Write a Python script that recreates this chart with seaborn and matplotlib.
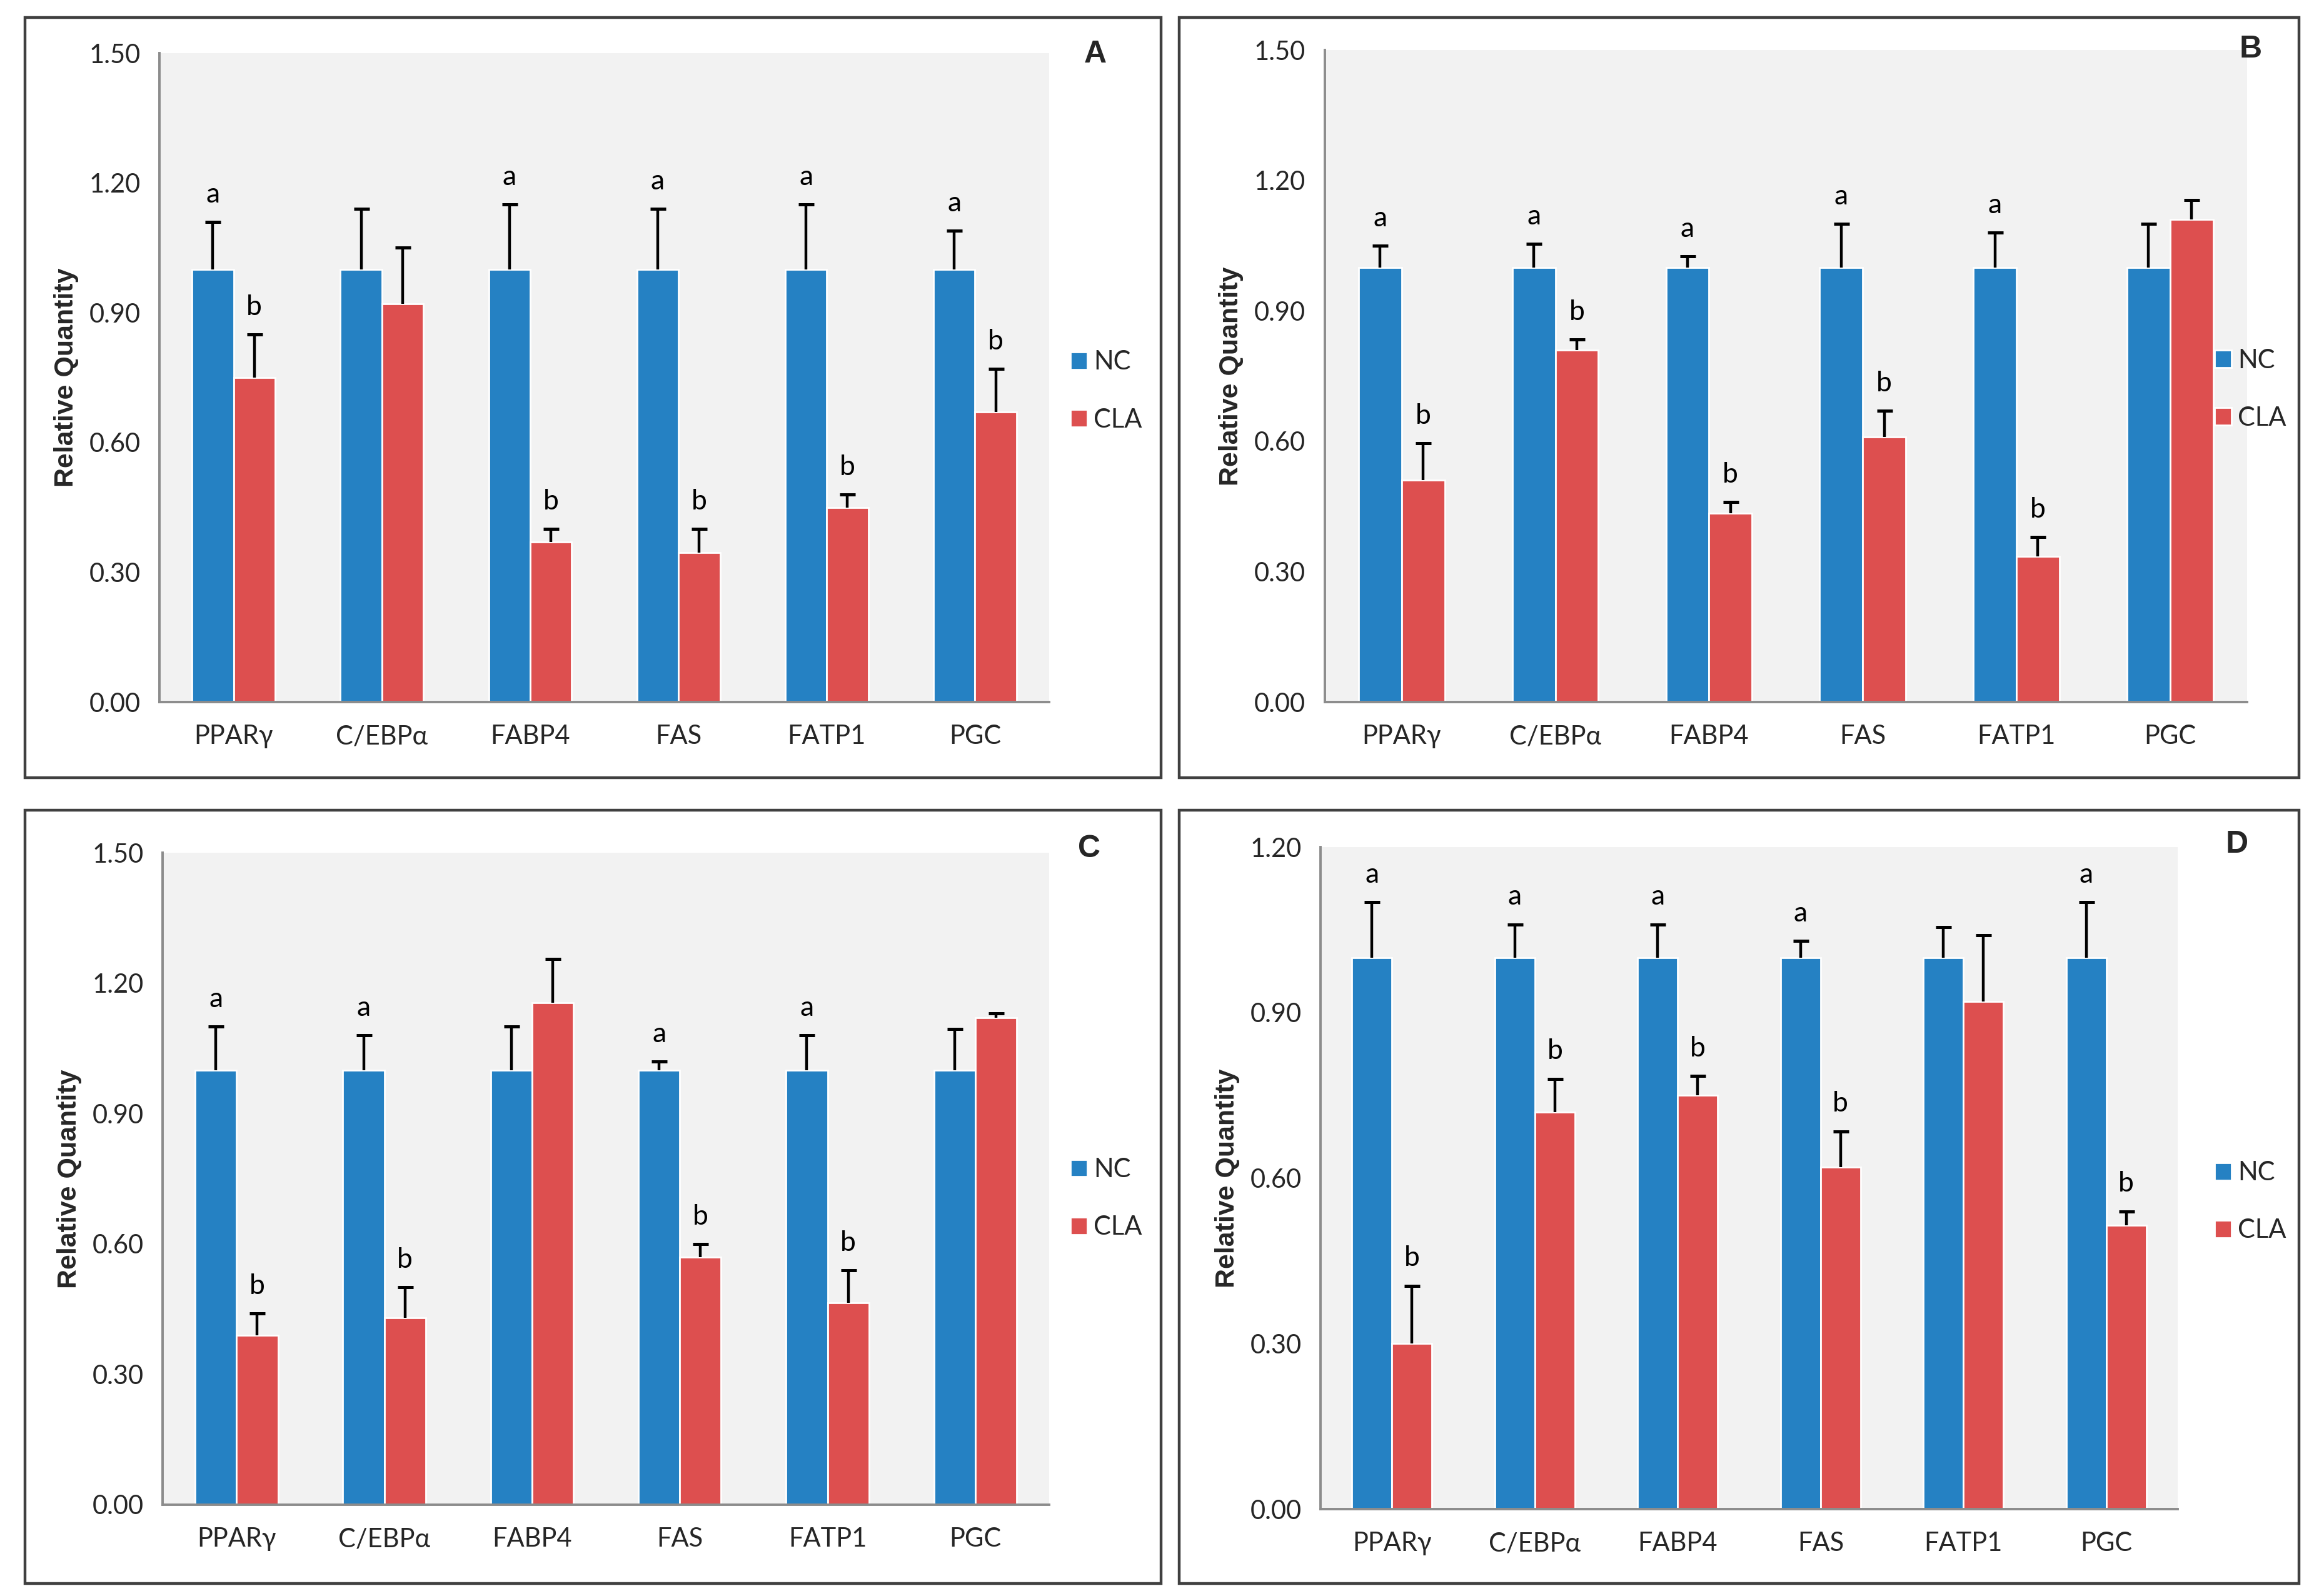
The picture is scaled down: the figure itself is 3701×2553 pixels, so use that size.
import numpy as np
import pandas as pd
import matplotlib
matplotlib.use("Agg")
import matplotlib.pyplot as plt
import seaborn as sns
from matplotlib.patches import Rectangle

genes = ['PPARγ', 'C/EBPα', 'FABP4', 'FAS', 'FATP1', 'PGC']
groups = ['NC', 'CLA']

# panel A
a_nc = [1.0, 1.0, 1.0, 1.0, 1.0, 1.0]
a_nc_err = [0.11, 0.14, 0.15, 0.14, 0.15, 0.09]
a_cla = [0.75, 0.92, 0.37, 0.345, 0.45, 0.67]
a_cla_err = [0.10, 0.13, 0.03, 0.055, 0.03, 0.10]
a_nc_lab = ['a', '', 'a', 'a', 'a', 'a']
a_cla_lab = ['b', '', 'b', 'b', 'b', 'b']

# panel B
b_nc = [1.0, 1.0, 1.0, 1.0, 1.0, 1.0]
b_nc_err = [0.05, 0.055, 0.025, 0.10, 0.08, 0.10]
b_cla = [0.51, 0.81, 0.435, 0.61, 0.335, 1.11]
b_cla_err = [0.085, 0.025, 0.025, 0.06, 0.045, 0.045]
b_nc_lab = ['a', 'a', 'a', 'a', 'a', '']
b_cla_lab = ['b', 'b', 'b', 'b', 'b', '']

# panel C
c_nc = [1.0, 1.0, 1.0, 1.0, 1.0, 1.0]
c_nc_err = [0.10, 0.08, 0.10, 0.02, 0.08, 0.095]
c_cla = [0.39, 0.43, 1.155, 0.57, 0.465, 1.12]
c_cla_err = [0.05, 0.07, 0.10, 0.03, 0.075, 0.01]
c_nc_lab = ['a', 'a', '', 'a', 'a', '']
c_cla_lab = ['b', 'b', '', 'b', 'b', '']

# panel D
d_nc = [1.0, 1.0, 1.0, 1.0, 1.0, 1.0]
d_nc_err = [0.10, 0.06, 0.06, 0.03, 0.055, 0.10]
d_cla = [0.30, 0.72, 0.75, 0.62, 0.92, 0.515]
d_cla_err = [0.105, 0.06, 0.035, 0.065, 0.12, 0.025]
d_nc_lab = ['a', 'a', 'a', 'a', '', 'a']
d_cla_lab = ['b', 'b', 'b', 'b', '', 'b']

panels = [
    ('A', a_nc, a_nc_err, a_cla, a_cla_err, a_nc_lab, a_cla_lab, 1.5),
    ('B', b_nc, b_nc_err, b_cla, b_cla_err, b_nc_lab, b_cla_lab, 1.5),
    ('C', c_nc, c_nc_err, c_cla, c_cla_err, c_nc_lab, c_cla_lab, 1.5),
    ('D', d_nc, d_nc_err, d_cla, d_cla_err, d_nc_lab, d_cla_lab, 1.2),
]

# layout (figure fractions)
axes_pos = {
    'A': [0.0689, 0.5601, 0.3845, 0.4066],
    'B': [0.5725, 0.5601, 0.3985, 0.4085],
    'C': [0.0703, 0.0572, 0.3831, 0.4085],
    'D': [0.5707, 0.0544, 0.3704, 0.4148],
}
frame_pos = {
    'A': [0.0108, 0.5127, 0.4910, 0.4763],
    'B': [0.5096, 0.5127, 0.4839, 0.4763],
    'C': [0.0108, 0.0078, 0.4910, 0.4845],
    'D': [0.5096, 0.0078, 0.4839, 0.4845],
}
letter_pos = {'A': (0.4734, 0.966), 'B': (0.9725, 0.969), 'C': (0.4707, 0.468), 'D': (0.9668, 0.471)}
legend_pos = {'A': (0.4625, 0.755), 'B': (0.957, 0.756), 'C': (0.4625, 0.249), 'D': (0.957, 0.247)}

palette = {'NC': '#2581C3', 'CLA': '#DD4F4F'}

sns.set_style("white")
plt.rcParams['font.family'] = ['Lato', 'DejaVu Sans']

fig = plt.figure(figsize=(3701 / 200, 2553 / 200), dpi=200)

for name, nc, nc_err, cla, cla_err, nc_lab, cla_lab, ymax in panels:
    fig.add_artist(Rectangle(frame_pos[name][:2], frame_pos[name][2], frame_pos[name][3],
                             transform=fig.transFigure, fill=False, edgecolor='#404040', linewidth=1.6))
    ax = fig.add_axes(axes_pos[name])
    df = pd.DataFrame({
        'gene': genes * 2,
        'group': ['NC'] * 6 + ['CLA'] * 6,
        'value': nc + cla,
        'err': nc_err + cla_err,
        'label': nc_lab + cla_lab,
    })
    sns.barplot(data=df, x='gene', y='value', hue='group', hue_order=groups,
                palette=palette, width=0.56, errorbar=None, ax=ax, saturation=1)

    # upward-only error bars and letters, one patch per row of df (NC first, then CLA)
    bars = [p for p in ax.patches if p.get_height() > 0]
    for bar, (_, row) in zip(bars, df.iterrows()):
        xc = bar.get_x() + bar.get_width() / 2
        top = row['value'] + row['err']
        ax.vlines(xc, row['value'], top, color='black', linewidth=1.6, zorder=3)
        ax.plot([xc], [top], marker='_', markersize=9, markeredgewidth=1.8,
                color='black', zorder=3)
        if row['label']:
            ax.text(xc, top + ymax * 0.022, row['label'], ha='center', va='bottom',
                    fontsize=16, color='black')

    ax.set_facecolor('#F2F2F2')
    ax.set_ylim(0, ymax)
    ax.set_xlim(-0.5, 5.5)
    ax.set_yticks(np.arange(0, ymax + 0.01, 0.3))
    ax.set_yticklabels([f'{v:.2f}' for v in np.arange(0, ymax + 0.01, 0.3)], fontsize=15)
    ax.set_xticks(range(6))
    ax.set_xticklabels(genes, fontsize=15)
    ax.set_xticks(np.arange(-0.5, 6, 1), minor=True)
    ax.tick_params(axis='x', which='major', length=0, pad=13)
    ax.tick_params(axis='x', which='minor', length=7, width=1.2, color='#8C8C8C', direction='out')
    ax.tick_params(axis='y', length=5, width=1.2, color='#8C8C8C', direction='out', pad=6)
    ax.set_xlabel('')
    ax.set_ylabel('Relative Quantity', fontsize=15.5, fontweight='bold',
                  family=['Liberation Sans', 'DejaVu Sans'], labelpad=6)
    for side in ['top', 'right']:
        ax.spines[side].set_visible(False)
    for side in ['left', 'bottom']:
        ax.spines[side].set_color('#8C8C8C')
        ax.spines[side].set_linewidth(1.4)

    handles, labels = ax.get_legend_handles_labels()
    ax.legend(handles, labels, loc='center left', bbox_to_anchor=legend_pos[name],
              bbox_transform=fig.transFigure, frameon=False, fontsize=15,
              borderpad=0, borderaxespad=0,
              handlelength=0.65, handleheight=0.65, handletextpad=0.25, labelspacing=1.3)

    fig.text(letter_pos[name][0], letter_pos[name][1], name, fontsize=18, fontweight='bold',
             ha='center', va='center', family=['Liberation Sans', 'DejaVu Sans'])

plt.savefig('out.png', dpi=200)
